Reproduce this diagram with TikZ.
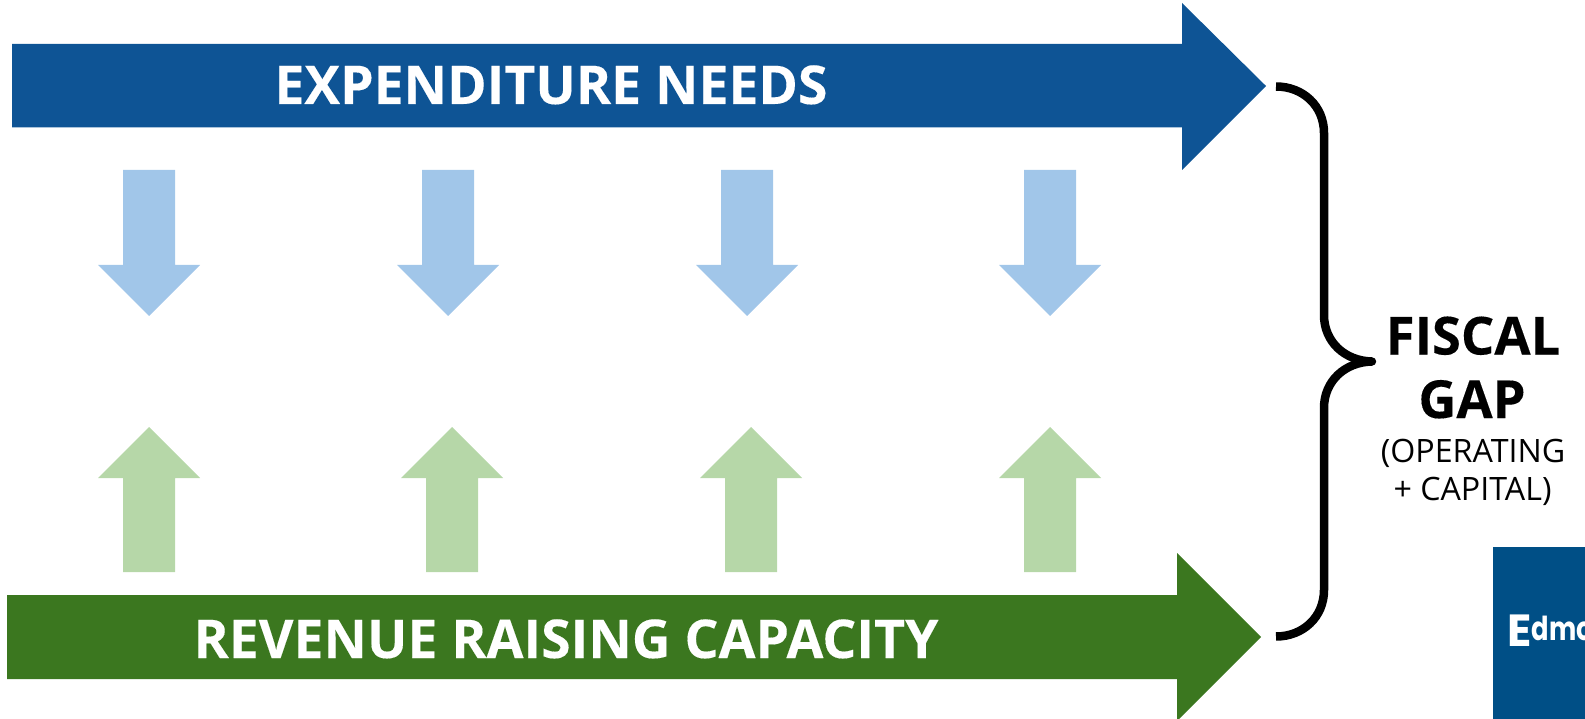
\documentclass[tikz,border=0pt]{standalone}
\usepackage{fontspec}
\setmainfont{Open Sans}
\newfontfamily\heavyfont[BoldFeatures={FakeBold=0.2}]{Open Sans}
\newfontfamily\logofont[FakeStretch=0.78]{Poppins}
\newfontfamily\logocap{Poppins}
\definecolor{bluedark}{HTML}{0E5495}
\definecolor{bluelight}{HTML}{A1C6E9}
\definecolor{greendark}{HTML}{3B771F}
\definecolor{greenlight}{HTML}{B6D7A8}
\definecolor{logoblue}{HTML}{004F86}
\tikzset{
  pxgrid/.style={x=1pt,y=-1pt},
  banner/.style={font=\heavyfont\fontsize{53.5}{53.5}\selectfont\bfseries,text=white,inner sep=0pt,anchor=base},
  fiscal/.style={font=\heavyfont\fontsize{52.5}{52.5}\selectfont\bfseries,text=black,inner sep=0pt,anchor=base},
  subtext/.style={font=\fontsize{32.2}{32.2}\selectfont,text=black,inner sep=0pt,anchor=base},
  bracestroke/.style={draw=black,line width=8.5pt,line cap=butt},
  logotext/.style={text=white,inner sep=0pt,anchor=base west},
}
\newcommand{\downarr}[1]{\fill[bluelight] (#1-26,170) -- (#1+26,170) -- (#1+26,265) -- (#1+51,265) -- (#1,316) -- (#1-51,265) -- (#1-26,265) -- cycle;}
\newcommand{\uparr}[1]{\fill[greenlight] (#1-26,572) -- (#1+26,572) -- (#1+26,478) -- (#1+51,478) -- (#1,427) -- (#1-51,478) -- (#1-26,478) -- cycle;}
\begin{document}
\begin{tikzpicture}[pxgrid]
\useasboundingbox (0,0) rectangle (1585,719);
\fill[bluedark] (12,44) -- (1182,44) -- (1182,3) -- (1266,86) -- (1182,170) -- (1182,127.5) -- (12,127.5) -- cycle;
\fill[greendark] (7,595) -- (1177,595) -- (1177,553) -- (1261,637) -- (1177,721) -- (1177,679) -- (7,679) -- cycle;
\downarr{149}\downarr{448}\downarr{747}\downarr{1050}
\uparr{149}\uparr{452}\uparr{751}\uparr{1050}
\node[banner] (exp) at (551,104) {EXPENDITURE NEEDS};
\node[banner] (rev) at (566,658) {REVENUE RAISING CAPACITY};
\draw[bracestroke] (1276,86.5) .. controls (1303,86.5) and (1324,106) .. (1324,133) -- (1324,315) .. controls (1324,342) and (1345,361) .. (1372,361.5);
\draw[bracestroke] (1372,361.5) .. controls (1345,362) and (1324,381) .. (1324,408) -- (1324,590) .. controls (1324,617) and (1303,636.5) .. (1276,636.5);
\fill (1372,361.5) circle (4.2);
\node[fiscal] (fis) at (1473,354.5) {FISCAL};
\node[fiscal] (gap) at (1472,418) {GAP};
\node[subtext] (op) at (1473,462) {(OPERATING};
\node[subtext] (cap) at (1472.5,500) {+ CAPITAL)};
\fill[logoblue] (1493,547) rectangle (1585,719);
\begin{scope}
\clip (1493,547) rectangle (1585,719);
\node[logotext] (logo) at (1507,646) {\logocap\bfseries\fontsize{45}{45}\selectfont E\raisebox{6pt}{\logofont\bfseries\fontsize{33}{33}\selectfont dmo}};
\end{scope}
\end{tikzpicture}
\end{document}
